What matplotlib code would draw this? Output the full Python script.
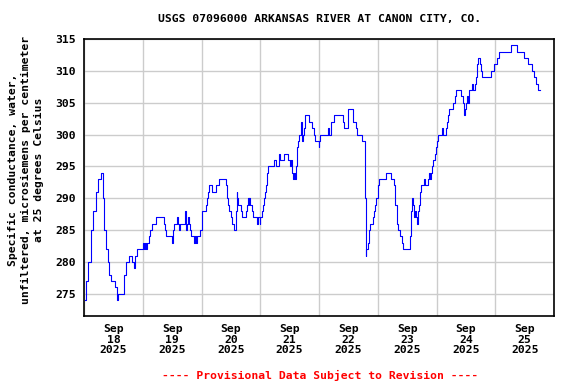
import matplotlib
matplotlib.use("Agg")
import matplotlib.pyplot as plt
import matplotlib.dates as mdates
from matplotlib.font_manager import FontProperties
import pandas as pd

# ---------------------------------------------------------------------------
# Data (hours since 2025-09-18 00:00, uS/cm)
# ---------------------------------------------------------------------------

START = pd.Timestamp("2025-09-18 00:00")
END = pd.Timestamp("2025-09-26 00:00")

HOURS = [
    0.3, 0.7, 1.6, 2.8, 3.6, 4.8, 5.6, 6.8, 7.6, 8.0, 8.9, 9.7, 10.1, 11.0,
    12.6, 13.4, 13.8, 16.3, 17.1, 18.3, 19.5, 20.3, 20.7, 21.5, 24.0, 24.4,
    24.8, 25.2, 25.6, 26.4, 26.8, 27.6, 29.3, 32.6, 33.0, 33.4, 36.0, 36.3,
    36.7, 37.9, 38.3, 38.7, 39.1, 41.1, 41.5, 41.9, 42.3, 42.8, 43.2, 43.6,
    44.8, 45.2, 45.6, 46.0, 47.2, 48.0, 48.4, 49.7, 50.1, 50.5, 50.9, 52.2,
    53.8, 55.0, 57.5, 57.9, 58.3, 58.7, 59.1, 59.9, 60.3, 61.1, 61.9, 62.3,
    62.7, 63.1, 64.0, 64.4, 66.0, 66.4, 66.8, 67.2, 67.6, 68.0, 68.8, 69.2,
    70.5, 70.9, 71.7, 72.1, 72.6, 73.0, 73.4, 73.8, 74.2, 74.6, 75.0, 77.5,
    78.3, 79.5, 79.9, 81.9, 83.5, 84.0, 84.4, 84.8, 85.2, 85.6, 86.0, 86.8,
    87.0, 87.6, 88.0, 88.8, 89.0, 89.2, 89.6, 90.0, 90.4, 92.1, 93.3, 93.8,
    94.2, 95.8, 96.2, 96.6, 99.5, 99.9, 101.1, 102.3, 105.6, 106.4, 107.8,
    110.0, 111.3, 111.7, 113.4, 114.8, 115.0, 115.4, 116.2, 116.6, 117.0,
    117.9, 118.3, 118.7, 119.1, 119.9, 120.3, 120.7, 123.5, 125.6, 126.8,
    127.2, 128.0, 128.4, 129.2, 130.0, 130.4, 133.3, 133.7, 134.1, 134.6,
    135.0, 135.4, 135.8, 136.2, 136.6, 137.0, 137.4, 137.8, 138.7, 139.5,
    140.7, 141.1, 141.5, 141.9, 142.3, 142.7, 143.5, 143.9, 144.3, 144.7,
    146.4, 146.8, 148.0, 148.4, 148.8, 149.2, 150.9, 151.7, 152.1, 154.1,
    154.9, 155.3, 155.7, 156.1, 156.5, 156.9, 157.4, 158.7, 159.1, 159.9,
    160.3, 160.7, 161.1, 161.9, 162.3, 162.7, 166.4, 167.6, 168.8, 169.6,
    174.3, 176.9, 179.8, 181.5, 183.1, 183.9, 184.7, 185.5, 186.4,
]

CONDUCTANCE = [
    274, 277, 280, 285, 288, 291, 293, 294, 290, 285, 282, 280, 278, 277,
    276, 274, 275, 278, 280, 281, 280, 279, 281, 282, 283, 282,
    283, 282, 283, 284, 285, 286, 287, 286, 285, 284, 283, 285,
    286, 287, 286, 285, 286, 288, 285, 286, 287, 286, 285, 284,
    283, 284, 283, 284, 285, 287, 288, 289, 290, 291, 292, 291,
    292, 293, 293, 292, 290, 289, 288, 287, 286, 285, 288, 291,
    290, 289, 288, 287, 288, 289, 290, 289, 290, 289, 288, 287,
    286, 287, 286, 287, 288, 289, 290, 291, 292, 294, 295, 296,
    295, 297, 296, 297, 296, 295, 296, 294, 293, 294, 293, 295,
    298, 299, 300, 302, 300, 299, 300, 301, 303, 302, 301, 300,
    299, 298, 299, 300, 301, 300, 302, 303, 302, 301, 304,
    302, 301, 300, 299, 290, 281, 282, 283, 285, 286,
    287, 288, 289, 290, 291, 292, 293, 294, 293, 292,
    289, 286, 285, 284, 283, 282, 284, 288, 290, 289,
    287, 288, 287, 286, 288, 289, 291, 292, 293, 292,
    293, 294, 293, 294, 295, 296, 297, 298, 299, 300,
    301, 300, 301, 302, 303, 304, 305, 306, 307, 306,
    305, 303, 304, 305, 306, 305, 307, 308, 307, 308,
    309, 311, 312, 311, 310, 309, 310, 311, 312, 313,
    314, 313, 312, 311, 310, 309, 308, 307, 307,
]

Y_TICKS = [275, 280, 285, 290, 295, 300, 305, 310, 315]

TITLE = "USGS 07096000 ARKANSAS RIVER AT CANON CITY, CO."
Y_LABEL = ("Specific conductance, water,\n"
           "unfiltered, microsiemens per centimeter\n"
           "at 25 degrees Celsius")
FOOTER = "---- Provisional Data Subject to Revision ----"

# ---------------------------------------------------------------------------
# Plot
# ---------------------------------------------------------------------------

FONT = dict(family="DejaVu Sans Mono", weight="bold", size=8.2)


def day_label(x, pos=None):
    d = mdates.num2date(x)
    return f"{d:%b}\n{d.day}\n{d.year}"


def main():
    times = START + pd.to_timedelta(HOURS, unit="h")

    fig = plt.figure(figsize=(5.76, 3.84), dpi=100)
    ax = fig.add_axes([84 / 576, 1 - 316 / 384, 470 / 576, 277 / 384])

    ax.plot(times, CONDUCTANCE, color="#0000FF", linewidth=0.8,
            drawstyle="steps-post", zorder=3)

    ax.set_xlim(START, END)
    ax.set_ylim(271.5, 315)

    ax.xaxis.set_major_locator(mdates.DayLocator())
    ax.xaxis.set_major_formatter(plt.NullFormatter())
    ax.xaxis.set_minor_locator(mdates.HourLocator(byhour=12))
    ax.xaxis.set_minor_formatter(plt.FuncFormatter(day_label))
    ax.set_yticks(Y_TICKS)

    ax.grid(True, which="major", color="#CCCCCC", linewidth=1.0, zorder=0)
    ax.tick_params(which="both", length=0)
    ax.tick_params(axis="x", which="minor", pad=6)
    ax.tick_params(axis="y", pad=6)

    for lab in ax.get_xticklabels(minor=True):
        lab.set_fontproperties(FontProperties(**FONT))
        lab.set_linespacing(1.05)
    for lab in ax.get_yticklabels():
        lab.set_fontproperties(FontProperties(**FONT))

    for s in ax.spines.values():
        s.set_linewidth(1.2)
        s.set_color("black")

    fig.text(320 / 576, 1 - 19 / 384, TITLE, ha="center", va="center", **FONT)
    fig.text(26 / 576, 1 - 170 / 384, Y_LABEL, ha="center", va="center",
             rotation=90, linespacing=1.4, **FONT)
    fig.text(320 / 576, 1 - 375 / 384, FOOTER, ha="center", va="center",
             color="#FF0000", **FONT)

    fig.savefig("out.png", dpi=100)
    plt.close(fig)


if __name__ == "__main__":
    main()
